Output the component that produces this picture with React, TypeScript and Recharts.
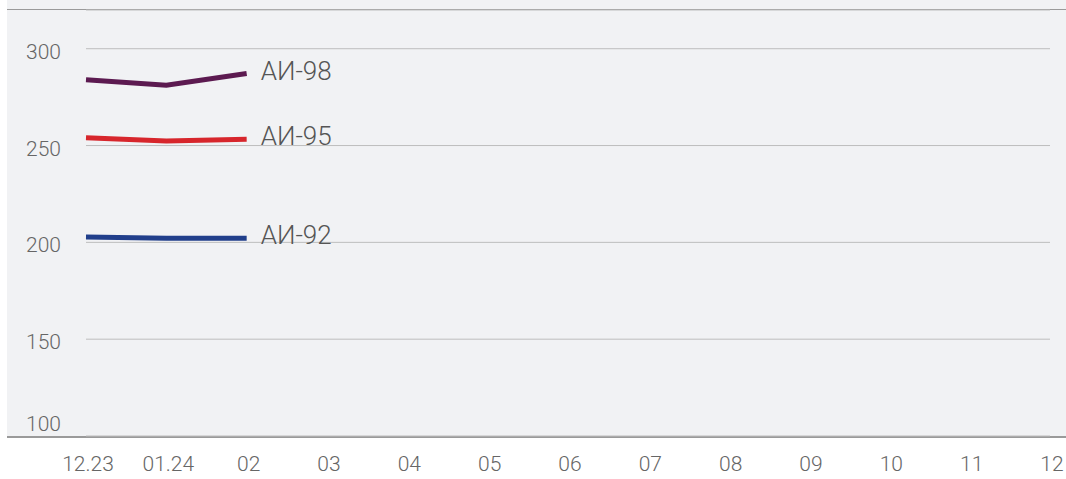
import { LineChart, Line, XAxis, YAxis, CartesianGrid } from "recharts";

const months = ["12.23", "01.24", "02", "03", "04", "05", "06", "07", "08", "09", "10", "11", "12"];
const ai98 = [284, 281.2, 287.2];
const ai95 = [254, 252.4, 253.2];
const ai92 = [202.8, 202.1, 202.1];
const yTicks = [100, 150, 200, 250, 300];

const data = months.map((m, i) => ({
  month: m,
  ai98: ai98[i] ?? null,
  ai95: ai95[i] ?? null,
  ai92: ai92[i] ?? null,
}));

const FONT = "Roboto, 'Noto Sans', sans-serif";

function endLabel(name: string, lastIndex: number) {
  return (props: any) => {
    if (props.index !== lastIndex) return null;
    return (
      <text
        x={props.x + 14}
        y={props.y - 3}
        dominantBaseline="central"
        fontFamily={FONT}
        fontWeight={300}
        fontSize={26}
        fill="#555"
      >
        {name}
      </text>
    );
  };
}

function YTick(props: any) {
  const { x, y, payload } = props;
  const shift = payload.value === 100 ? -12 : 3;
  return (
    <text
      x={x}
      y={y + shift}
      textAnchor="end"
      dominantBaseline="central"
      fontFamily={FONT}
      fontWeight={300}
      fontSize={21}
      fill="#666"
    >
      {payload.value}
    </text>
  );
}

export default function App() {
  return (
    <div style={{ position: "absolute", left: 0, top: 0, width: 1066, height: 479 }}>
      <div
        style={{
          position: "absolute",
          left: 7,
          top: 0,
          width: 1059,
          height: 436,
          background: "#f1f2f4",
        }}
      />
      <div
        style={{
          position: "absolute",
          left: 7,
          top: 9,
          width: 1059,
          height: 426,
          borderTop: "1px solid #9a9a9a",
          borderBottom: "2px solid #9a9a9a",
        }}
      />
      <LineChart
        width={1066}
        height={479}
        data={data}
        margin={{ top: 10, right: 16, left: 0, bottom: 0 }}
        style={{ position: "absolute", left: 0, top: 0 }}
      >
        <CartesianGrid vertical={false} stroke="#bdbdbd" strokeWidth={1} />
        <XAxis
          dataKey="month"
          height={43}
          axisLine={false}
          tickLine={false}
          tickSize={6}
          tickMargin={14}
          interval={0}
          dx={2}
          tick={{ fontFamily: FONT, fontWeight: 300, fontSize: 21, fill: "#666" }}
        />
        <YAxis
          width={86}
          domain={[100, 320]}
          ticks={yTicks}
          axisLine={false}
          tickLine={false}
          tickSize={6}
          tickMargin={19}
          tick={<YTick />}
        />
        <Line
          dataKey="ai98"
          stroke="#5c1a50"
          strokeWidth={5}
          dot={false}
          isAnimationActive={false}
          label={endLabel("АИ-98", ai98.length - 1)}
        />
        <Line
          dataKey="ai95"
          stroke="#d7262c"
          strokeWidth={5}
          dot={false}
          isAnimationActive={false}
          label={endLabel("АИ-95", ai95.length - 1)}
        />
        <Line
          dataKey="ai92"
          stroke="#213f8b"
          strokeWidth={5}
          dot={false}
          isAnimationActive={false}
          label={endLabel("АИ-92", ai92.length - 1)}
        />
      </LineChart>
    </div>
  );
}
